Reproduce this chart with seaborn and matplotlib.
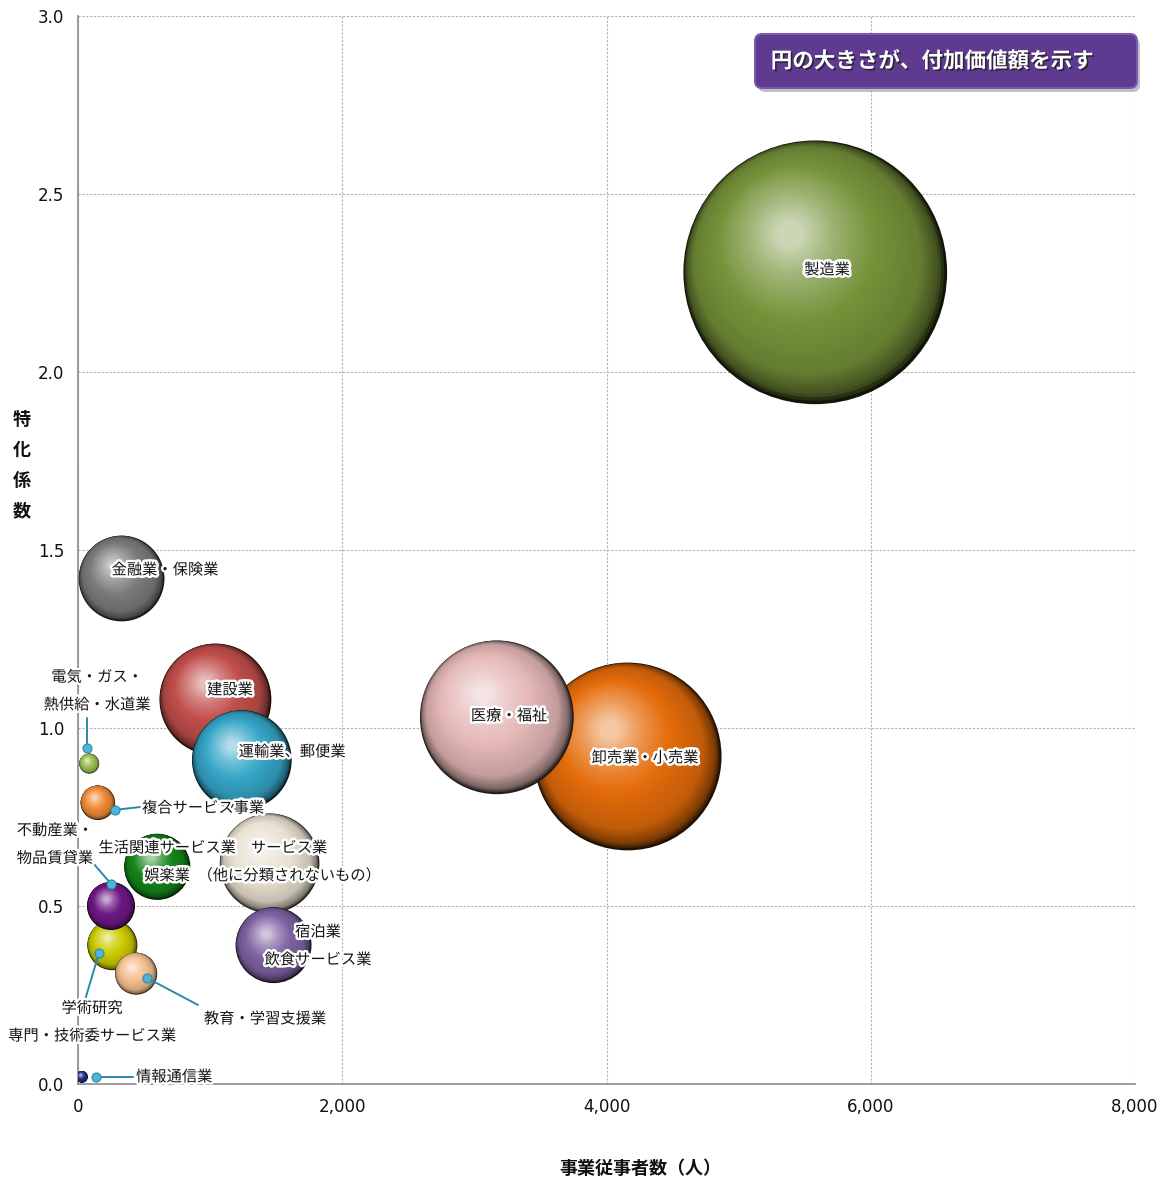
import numpy as np
import pandas as pd
import matplotlib
matplotlib.use("Agg")
import matplotlib.pyplot as plt
import matplotlib.colors as mcolors
import matplotlib.transforms as mtransforms
import matplotlib.patheffects as pe
from matplotlib.patches import FancyBboxPatch
import seaborn as sns

# ---- data -------------------------------------------------------------
industries = [
    "製造業", "卸売業・小売業", "医療・福祉", "建設業", "運輸業、郵便業",
    "サービス業（他に分類されないもの）", "金融業・保険業", "宿泊業・飲食サービス業",
    "生活関連サービス業・娯楽業", "学術研究・専門・技術サービス業", "不動産業・物品賃貸業",
    "教育・学習支援業", "複合サービス事業", "電気・ガス・熱供給・水道業", "情報通信業",
]
employees = [5580, 4160, 3170, 1040, 1240, 1450, 330, 1480, 600, 260, 250, 440, 150, 85, 30]
specialization = [2.28, 0.92, 1.03, 1.08, 0.91, 0.62, 1.42, 0.39, 0.61, 0.39, 0.50, 0.31, 0.79, 0.90, 0.02]
value_added = [3500, 1775, 1190, 630, 500, 500, 370, 290, 220, 126, 116, 89, 60, 20, 7]
base_colors = [
    "#76933a", "#e46c0a", "#e4b8b7", "#c14f4c", "#36a6c8", "#e9e1d1",
    "#7c7c7c", "#7f63a3", "#14861a", "#cccc00", "#6e1883", "#f5bf90",
    "#f08a38", "#98bf50", "#1c2c80",
]

xticks = [0, 2000, 4000, 6000, 8000]
yticks = [0.0, 0.5, 1.0, 1.5, 2.0, 2.5, 3.0]

df = pd.DataFrame({
    "industry": industries,
    "employees": employees,
    "specialization": specialization,
    "value_added": value_added,
    "color": base_colors,
})

# marker area (pt^2) proportional to value added
AREA_PER_UNIT = 10.3
df["area"] = df["value_added"] * AREA_PER_UNIT

# ---- figure -----------------------------------------------------------
sns.set_theme(style="white")
plt.rcParams["font.family"] = ["Noto Sans CJK JP", "DejaVu Sans"]

fig = plt.figure(figsize=(11.66, 11.83), dpi=100)
ax = fig.add_axes([78 / 1166, 1 - 1084 / 1183, (1135 - 78) / 1166, (1084 - 16) / 1183])
ax.set_xlim(0, 8000)
ax.set_ylim(0, 3.0)

# colour ramp of a sphere: t=0 outer rim, t=1 specular highlight
RAMP_T = [0.0, 0.04, 0.15, 0.45, 0.75, 1.0]
RAMP_MIX = [-0.85, -0.45, -0.15, 0.0, 0.3, 0.62]  # <0 darken, >0 lighten


def shade(base, t):
    b = np.array(mcolors.to_rgb(base))
    m = np.interp(t, RAMP_T, RAMP_MIX)
    if m < 0:
        c = b * (1 + m)
    else:
        c = b + (1 - b) * m
    return np.clip(c, 0, 1)


n_layers = 60
hl_dir = np.array([-0.55, 0.835])
order = df.sort_values("area", ascending=False).index
for rank, i in enumerate(order):
    row = df.loc[i]
    z = 3 + rank
    d_pt = np.sqrt(row["area"])  # marker diameter in points
    r_pt = d_pt / 2
    # rim / base layer
    sns.scatterplot(
        data=df.loc[[i]], x="employees", y="specialization",
        s=row["area"], color=shade(row["color"], 0.0), edgecolor="none",
        linewidth=0, ax=ax, zorder=z, legend=False,
    )
    # inner layers shift toward the upper-left highlight
    for k in range(1, n_layers):
        t = k / (n_layers - 1)
        f = 1 - 0.9 * t
        g = 0.85 - 0.47 * t
        off = (1 - f) * g * r_pt * hl_dir
        tr = mtransforms.offset_copy(ax.transData, fig=fig, x=off[0], y=off[1], units="points")
        ax.scatter(
            [row["employees"]], [row["specialization"]], s=(d_pt * f) ** 2,
            color=[shade(row["color"], t)], edgecolors="none", linewidths=0,
            transform=tr, zorder=z, clip_on=True,
        )

# ---- axes styling ------------------------------------------------------
ax.set_xticks(xticks)
ax.set_yticks(yticks)
ax.set_xticklabels([f"{v:,}" for v in xticks], fontfamily="DejaVu Sans", fontsize=12, color="#111111")
ax.set_yticklabels([f"{v:.1f}" for v in yticks], fontfamily="DejaVu Sans", fontsize=12, color="#111111")
ax.tick_params(axis="both", length=4, width=0.8, color="#888888", pad=6)
ax.grid(True, color="#b0b0b0", linestyle=(0, (2, 1.5)), linewidth=0.8, zorder=0)
ax.set_axisbelow(True)
for side in ["top", "right"]:
    ax.spines[side].set_visible(False)
for side in ["left", "bottom"]:
    ax.spines[side].set_color("#8c8c8c")
    ax.spines[side].set_linewidth(1.2)
ax.set_xlabel("")
ax.set_ylabel("")

fig.text(640 / 1166, 1 - 1168 / 1183, "事業従事者数（人）", ha="center", va="center",
         fontsize=13, fontweight="bold", color="#111111")
fig.text(22 / 1166, 1 - 465 / 1183, "特\n化\n係\n数", ha="center", va="center",
         fontsize=13, fontweight="bold", color="#111111", linespacing=1.75)

# ---- labels --------------------------------------------------------------
stroke = [pe.withStroke(linewidth=3.5, foreground="white")]
label_kw = dict(fontsize=11, color="#151515", path_effects=stroke, zorder=40, clip_on=False)
LINE_GAP = 0.039  # half the distance between the two rows of a label


def label(x, y, lines, ha="center"):
    if isinstance(lines, str):
        ax.text(x, y, lines, ha=ha, va="center", **label_kw)
        return
    ax.text(x, y + LINE_GAP, lines[0], ha=ha, va="center", **label_kw)
    ax.text(x, y - LINE_GAP, lines[1], ha=ha, va="center", **label_kw)


label(5669, 2.287, "製造業")
label(4291, 0.916, "卸売業・小売業")
label(3262, 1.034, "医療・福祉")
label(658, 1.444, "金融業・保険業")
label(1150, 1.107, "建設業")
label(1620, 0.933, "運輸業、郵便業")
label(674, 0.624, ["生活関連サービス業", "娯楽業"])
label(1597, 0.624, ["サービス業", "（他に分類されないもの）"])
label(1816, 0.388, ["宿泊業", "飲食サービス業"])
label(144, 1.104, ["電気・ガス・", "熱供給・水道業"])
label(484, 0.775, "複合サービス事業", ha="left")
label(-175, 0.673, ["不動産業・", "物品賃貸業"])
label(106, 0.174, ["学術研究", "専門・技術委サービス業"])
label(1415, 0.183, "教育・学習支援業")
label(439, 0.02, "情報通信業", ha="left")

# leader lines for the small bubbles
leaders = [
    ((68, 0.944), (68, 1.028)),
    ((280, 0.770), (469, 0.778)),
    ((250, 0.562), (106, 0.624)),
    ((159, 0.368), (53, 0.236)),
    ((522, 0.298), (908, 0.222)),
    ((136, 0.020), (416, 0.020)),
]
teal = "#2a8aa8"
for (x0, y0), (x1, y1) in leaders:
    ax.plot([x0, x1], [y0, y1], color=teal, linewidth=1.4, zorder=35, clip_on=False)
    ax.plot([x0], [y0], "o", color="#4db6d6", markersize=6.5, markeredgecolor=teal,
            markeredgewidth=0.8, zorder=36, clip_on=False)

# ---- note box ---------------------------------------------------------------
shadow = FancyBboxPatch((758 / 1166, 1 - 92 / 1183), 382 / 1166, 54 / 1183,
                        boxstyle="round,pad=0,rounding_size=0.006",
                        transform=fig.transFigure, facecolor="#9a9a9a", edgecolor="none",
                        alpha=0.6, zorder=50)
box = FancyBboxPatch((755 / 1166, 1 - 88 / 1183), 382 / 1166, 54 / 1183,
                     boxstyle="round,pad=0,rounding_size=0.006",
                     transform=fig.transFigure, facecolor="#5e3a90", edgecolor="#7c5aae",
                     linewidth=1.5, zorder=51)
fig.patches.extend([shadow, box])
fig.text(932 / 1166, 1 - 61 / 1183, "円の大きさが、付加価値額を示す", ha="center", va="center",
         fontsize=15.5, fontweight="bold", color="white", zorder=52,
         path_effects=[pe.withSimplePatchShadow(offset=(1.2, -1.2), shadow_rgbFace="#222222", alpha=0.8)])

fig.savefig("out.png", dpi=100, facecolor="white")
